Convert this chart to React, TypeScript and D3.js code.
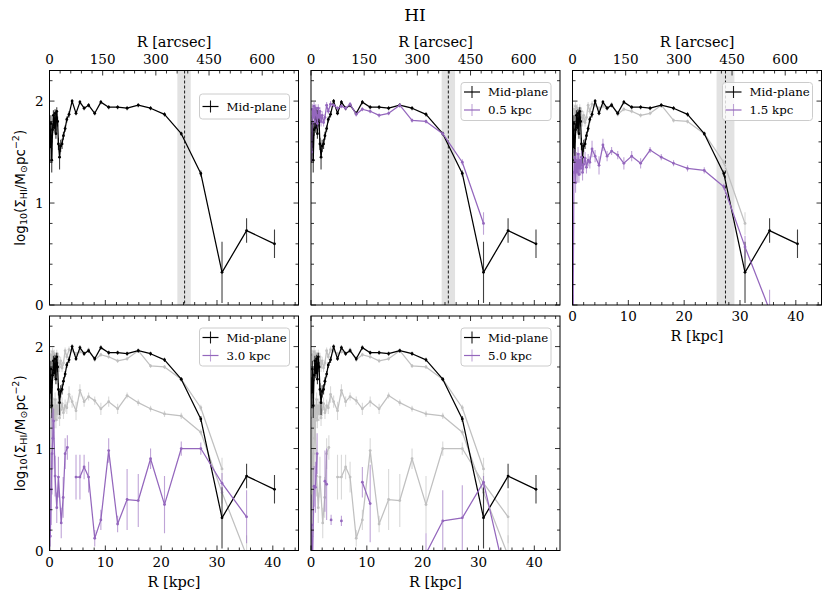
import React from "react";
import * as d3 from "d3";

// radial profiles, log10 of HI surface density
const midR = [0.1, 0.25, 0.4, 0.55, 0.7, 0.85, 1.0, 1.15, 1.3, 1.45, 1.6, 1.8, 2.0, 2.25, 2.5, 2.8, 3.1, 3.5, 4.05, 4.75, 5.45, 6.2, 7.0, 8.1, 9.2, 10.6, 12.2, 13.9, 15.9, 18.1, 20.6, 23.6, 27.1, 30.9, 35.3, 40.3];
const midVal = [1.55, 1.78, 1.42, 1.72, 1.86, 1.74, 1.88, 1.68, 1.9, 1.8, 1.58, 1.45, 1.56, 1.58, 1.66, 1.73, 1.82, 1.87, 2.0, 1.88, 1.99, 1.93, 1.96, 1.88, 1.99, 1.94, 1.94, 1.93, 1.96, 1.93, 1.87, 1.68, 1.29, 0.32, 0.73, 0.6];
const midErr = [0.15, 0.08, 0.12, 0.06, 0.05, 0.05, 0.04, 0.05, 0.04, 0.05, 0.06, 0.12, 0.06, 0.05, 0.04, 0.03, 0.03, 0.03, 0.02, 0.02, 0.02, 0.02, 0.02, 0.02, 0.02, 0.02, 0.02, 0.02, 0.02, 0.02, 0.02, 0.02, 0.03, 0.3, 0.12, 0.14];

const p05R = midR.slice(0, 34);
const p05Val = [1.5, 1.92, 1.84, 1.95, 1.8, 1.93, 1.86, 1.78, 1.93, 1.84, 1.9, 1.8, 1.86, 1.79, 1.84, 1.96, 1.9, 1.97, 1.96, 1.93, 1.95, 1.93, 1.97, 1.87, 1.92, 1.9, 1.86, 1.88, 1.96, 1.81, 1.8, 1.68, 1.4, 0.8];
const p05Err = [0.1, 0.05, 0.06, 0.04, 0.05, 0.04, 0.04, 0.05, 0.04, 0.04, 0.04, 0.05, 0.04, 0.04, 0.03, 0.03, 0.03, 0.03, 0.02, 0.02, 0.02, 0.02, 0.02, 0.02, 0.02, 0.02, 0.02, 0.02, 0.02, 0.02, 0.02, 0.02, 0.03, 0.11];

const p15R = midR.slice(0, 35);
const p15Val = [-0.2, 1.3, 1.45, 1.2, 1.42, 1.3, 1.48, 1.28, 1.42, 1.34, 1.45, 1.3, 1.38, 1.44, 1.35, 1.42, 1.4, 1.53, 1.46, 1.37, 1.57, 1.46, 1.51, 1.47, 1.39, 1.46, 1.39, 1.52, 1.45, 1.39, 1.34, 1.32, 1.16, 0.57, -0.05];
const p15Err = [0.3, 0.1, 0.08, 0.1, 0.08, 0.1, 0.07, 0.08, 0.07, 0.07, 0.06, 0.08, 0.06, 0.06, 0.06, 0.06, 0.06, 0.08, 0.06, 0.09, 0.06, 0.05, 0.04, 0.04, 0.06, 0.05, 0.05, 0.03, 0.03, 0.03, 0.03, 0.03, 0.03, 0.11, 0.2];

const p30R = [0.15, 0.3, 0.45, 0.6, 0.75, 1.0, 1.3, 1.6, 2.1, 2.45, 2.8, 3.2, 4.05, 4.75, 5.45, 6.2, 7.0, 8.1, 9.2, 10.6, 12.2, 13.9, 15.9, 18.1, 20.6, 23.6, 27.1, 30.9, 35.3];
const p30Val = [0.14, 0.6, 0.95, 1.1, 1.27, 0.73, 0.42, 0.72, 0.27, 0.52, 0.95, 1.01, null, 0.72, 0.72, 0.82, 0.72, 0.12, 0.3, 0.98, 0.26, 0.5, 0.49, 0.9, 0.45, 1.0, 1.0, 0.66, 0.33];
const p30Err = [0.1, 0.35, 0.4, 0.3, 0.12, 0.2, 0.15, 0.2, 0.15, 0.2, 0.15, 0.12, 0, 0.22, 0.22, 0.12, 0.15, 0.08, 0.1, 0.12, 0.08, 0.3, 0.26, 0.1, 0.28, 0.07, 0.06, 0.1, 0.26];

const p50R = [0.1, 0.2, 0.55, 0.8, 1.1, 1.6, 2.5, 2.8, 3.2, 3.6, 4.05, 5.45, 6.2, 9.2, 10.6, 12.2, 20.6, 23.6, 27.1, 30.9, 35.3];
const p50Val = [0.25, -0.3, 0.63, 0.62, 0.95, null, 0.68, 0.65, null, 0.3, null, 0.29, null, 0.67, 0.46, null, -0.03, 0.29, 0.32, 0.67, -0.38];
const p50Err = [0.3, 0.3, 0.2, 0.25, 0.2, 0, 0.3, 0.35, 0, 0.05, 0, 0.05, 0, 0.15, 0.38, 0, 0.2, 0.3, 0.32, 0.06, 0.3];

const heightLabels = ["0.5 kpc", "1.5 kpc", "3.0 kpc", "5.0 kpc"];

// R25-like marker with its uncertainty band, top row only
const bandMid = [24.2, 24.6, 27.4];
const bandLo = [22.9, 23.4, 25.8];
const bandHi = [25.3, 25.8, 29.0];

const kpcTicks = [0, 10, 20, 30, 40];
const arcsecTicks = [0, 150, 300, 450, 600];
const yTicks = [0, 1, 2];

const KPC_PER_ARCSEC = 0.0635;
const X_MAX = 44.6;
const Y_MAX = 2.3;

const PURPLE = "#9467bd";
const GREY = "#c0c0c0";
const SERIF = "'DejaVu Serif', serif";
const SANS = "'DejaVu Sans', sans-serif";

type Series = { label: string; r: number[]; v: (number | null)[]; e: number[] };

const midPlane: Series = { label: "Mid-plane", r: midR, v: midVal, e: midErr };
const offPlane: Series[] = [
  { label: heightLabels[0], r: p05R, v: p05Val, e: p05Err },
  { label: heightLabels[1], r: p15R, v: p15Val, e: p15Err },
  { label: heightLabels[2], r: p30R, v: p30Val, e: p30Err },
  { label: heightLabels[3], r: p50R, v: p50Val, e: p50Err },
];

const colX = [49.5, 311, 572.5];
const rowY = [70.5, 316];
const PW = 249;
const PH = 234.5;
const panelCol = [0, 1, 2, 0, 1];
const panelRow = [0, 0, 0, 1, 1];

function SeriesMarks({ s, color, x, y, id }: { s: Series; color: string; x: any; y: any; id: string }) {
  const idx = d3.range(s.r.length);
  const line = d3
    .line<number>()
    .defined((i) => s.v[i] != null)
    .x((i) => x(s.r[i]))
    .y((i) => y(s.v[i] as number));
  const ok = idx.filter((i) => s.v[i] != null);
  return (
    <g clipPath={`url(#${id})`}>
      {ok
        .filter((i) => s.e[i] > 0)
        .map((i) => (
          <line
            key={"e" + i}
            x1={x(s.r[i])}
            x2={x(s.r[i])}
            y1={y((s.v[i] as number) - s.e[i])}
            y2={y((s.v[i] as number) + s.e[i])}
            stroke={color}
            strokeOpacity={color === "#000" ? 0.75 : 0.6}
            strokeWidth={1.1}
          />
        ))}
      <path d={line(idx) ?? ""} fill="none" stroke={color} strokeWidth={1.25} strokeLinejoin="round" />
      {ok.map((i) => (
        <circle key={"c" + i} cx={x(s.r[i])} cy={y(s.v[i] as number)} r={1.4} fill={color} />
      ))}
    </g>
  );
}

function Panel({ p }: { p: number }) {
  const col = panelCol[p];
  const row = panelRow[p];
  const x0 = colX[col];
  const y0 = rowY[row];
  const x = d3.scaleLinear().domain([0, X_MAX]).range([x0, x0 + PW]);
  const xa = d3.scaleLinear().domain([0, X_MAX / KPC_PER_ARCSEC]).range([x0, x0 + PW]);
  const y = d3.scaleLinear().domain([0, Y_MAX]).range([y0 + PH, y0]);
  const id = `clip${p}`;
  const current = p > 0 ? offPlane[p - 1] : null;
  const greys = p > 1 ? offPlane.slice(0, p - 1) : [];
  const bottom = y0 + PH;
  const right = x0 + PW;

  const kMinor = d3.range(0, X_MAX, 2).filter((v) => v % 10 !== 0);
  const aMinor = d3.range(0, X_MAX / KPC_PER_ARCSEC, 30).filter((v) => v % 150 !== 0);
  const yMinor = d3.range(0.2, Y_MAX, 0.2).filter((v) => Math.abs(v - Math.round(v)) > 0.01);

  const showBottomLabels = row === 1 || p === 2;
  const showTopLabels = row === 0;
  const showYLabels = col === 0;

  const entries = current ? [midPlane, current] : [midPlane];
  const legH = entries.length === 1 ? 25 : 38;
  const legTop = p === 0 ? 23.5 : 12;
  const legW = 90;

  return (
    <g>
      <defs>
        <clipPath id={id}>
          <rect x={x0} y={y0} width={PW} height={PH} />
        </clipPath>
      </defs>
      {row === 0 && (
        <g>
          <rect x={x(bandLo[col])} y={y0} width={x(bandHi[col]) - x(bandLo[col])} height={PH} fill="#e2e2e2" />
          <line x1={x(bandMid[col])} x2={x(bandMid[col])} y1={y0} y2={bottom} stroke="#000" strokeWidth={0.9} strokeDasharray="3,2" />
        </g>
      )}
      {greys.map((s, i) => (
        <SeriesMarks key={i} s={s} color={GREY} x={x} y={y} id={id} />
      ))}
      <SeriesMarks s={midPlane} color="#000" x={x} y={y} id={id} />
      {current && <SeriesMarks s={current} color={PURPLE} x={x} y={y} id={id} />}

      {/* ticks, all pointing inward */}
      <g stroke="#000" strokeWidth={0.8}>
        {kpcTicks.map((v) => (
          <line key={"kb" + v} x1={x(v)} x2={x(v)} y1={bottom} y2={bottom - 5} />
        ))}
        {kMinor.map((v) => (
          <line key={"km" + v} x1={x(v)} x2={x(v)} y1={bottom} y2={bottom - 3} />
        ))}
        {arcsecTicks.map((v) => (
          <line key={"at" + v} x1={xa(v)} x2={xa(v)} y1={y0} y2={y0 + 5} />
        ))}
        {aMinor.map((v) => (
          <line key={"am" + v} x1={xa(v)} x2={xa(v)} y1={y0} y2={y0 + 3} />
        ))}
        {yTicks.map((v) => (
          <g key={"y" + v}>
            <line x1={x0} x2={x0 + 5} y1={y(v)} y2={y(v)} />
            <line x1={right} x2={right - 5} y1={y(v)} y2={y(v)} />
          </g>
        ))}
        {yMinor.map((v) => (
          <g key={"ym" + v}>
            <line x1={x0} x2={x0 + 3} y1={y(v)} y2={y(v)} />
            <line x1={right} x2={right - 3} y1={y(v)} y2={y(v)} />
          </g>
        ))}
      </g>
      <rect x={x0} y={y0} width={PW} height={PH} fill="none" stroke="#000" strokeWidth={1} />

      <g fontFamily={SERIF} fontSize={13.5} fill="#000">
        {showBottomLabels &&
          kpcTicks.map((v) => (
            <text key={"bl" + v} x={x(v)} y={bottom + 11} textAnchor="middle" dominantBaseline="central">
              {v}
            </text>
          ))}
        {showBottomLabels && (
          <text x={x0 + PW / 2} y={bottom + 31} textAnchor="middle" dominantBaseline="central" fontSize={14.5}>
            R [kpc]
          </text>
        )}
        {showTopLabels &&
          arcsecTicks.map((v) => (
            <text key={"tl" + v} x={xa(v)} y={y0 - 11.5} textAnchor="middle" dominantBaseline="central">
              {v}
            </text>
          ))}
        {showTopLabels && (
          <text x={x0 + PW / 2} y={y0 - 29} textAnchor="middle" dominantBaseline="central" fontSize={14.5}>
            R [arcsec]
          </text>
        )}
        {showYLabels &&
          yTicks.map((v) => (
            <text key={"yl" + v} x={x0 - 6} y={y(v)} textAnchor="end" dominantBaseline="central">
              {v}
            </text>
          ))}
      </g>

      {/* legend */}
      <g transform={`translate(${right - 9 - legW},${y0 + legTop})`}>
        <rect width={legW} height={legH} rx={3} fill="#fff" fillOpacity={0.8} stroke="#cccccc" strokeWidth={1} />
        {entries.map((s, i) => {
          const ly = (legH === 25 ? 12.5 : 9.5) + i * 18;
          const c = i === 0 ? "#000" : PURPLE;
          return (
            <g key={s.label}>
              <line x1={3} x2={19} y1={ly} y2={ly} stroke={c} strokeWidth={1.2} />
              <line x1={11} x2={11} y1={ly - 6} y2={ly + 6} stroke={c} strokeOpacity={i === 0 ? 0.9 : 0.6} strokeWidth={1.1} />
              <text x={27} y={ly} dominantBaseline="central" fontFamily={SERIF} fontSize={11.8}>
                {s.label}
              </text>
            </g>
          );
        })}
      </g>
    </g>
  );
}

function YLabel({ cy }: { cy: number }) {
  return (
    <text
      transform={`translate(19.5,${cy}) rotate(-90)`}
      textAnchor="middle"
      dominantBaseline="central"
      fontFamily={SANS}
      fontSize={13.5}
    >
      log
      <tspan dy={3} fontSize={9.5}>10</tspan>
      <tspan dy={-3}>(Σ</tspan>
      <tspan dy={3} fontSize={9.5}>HI</tspan>
      <tspan dy={-3}>/M</tspan>
      <tspan dy={3} fontSize={9.5}>⊙</tspan>
      <tspan dy={-3}>pc</tspan>
      <tspan dy={-5} fontSize={9.5}>−2</tspan>
      <tspan dy={5}>)</tspan>
    </text>
  );
}

export default function App() {
  return (
    <div style={{ position: "absolute", left: 0, top: 0 }}>
      <svg width={830} height={592} viewBox="0 0 830 592" style={{ display: "block", background: "#fff" }}>
        <text x={415} y={15} textAnchor="middle" dominantBaseline="central" fontFamily={SERIF} fontSize={17}>
          HI
        </text>
        {d3.range(5).map((p) => (
          <Panel key={p} p={p} />
        ))}
        <YLabel cy={rowY[0] + PH / 2} />
        <YLabel cy={rowY[1] + PH / 2} />
      </svg>
    </div>
  );
}
